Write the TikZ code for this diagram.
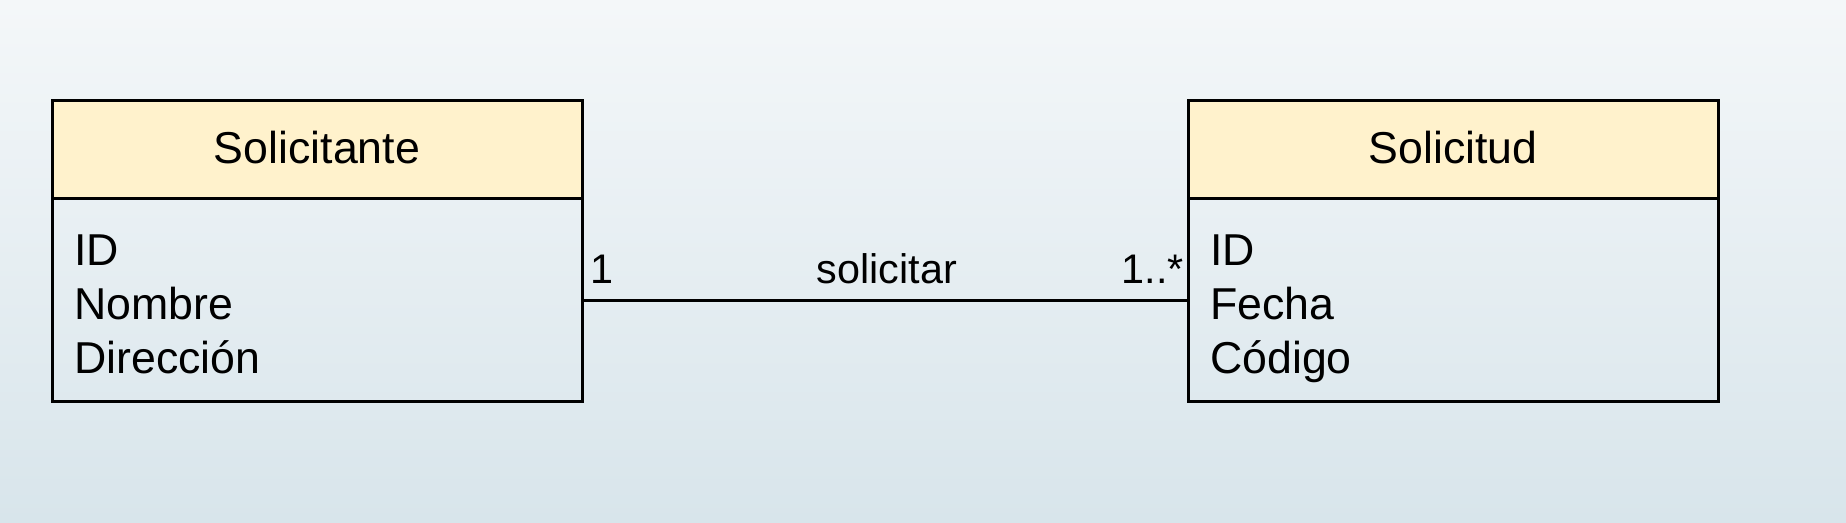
\documentclass[tikz,border=0pt]{standalone}
\usepackage{fontspec}
\setmainfont{Liberation Sans}
\definecolor{bgtop}{HTML}{F4F7F9}
\definecolor{bgbot}{HTML}{D8E5EB}
\definecolor{hdr}{HTML}{FFF2CC}
\tikzset{
  boxline/.style={draw=black, line width=2.25pt},
  hdrbox/.style={boxline, fill=hdr},
  attr/.style={anchor=base west, inner sep=0pt, font=\fontsize{33.5}{40}\selectfont},
  title/.style={anchor=base, inner sep=0pt, font=\fontsize{33.5}{40}\selectfont},
  lbl/.style={anchor=base, inner sep=0pt, font=\fontsize{31}{37}\selectfont},
  conn/.style={draw=black, line width=2.25pt}
}
\begin{document}
\begin{tikzpicture}[x=0.75pt, y=-0.75pt]
\useasboundingbox (0,0) rectangle (1846,522);
\shade[top color=bgtop, bottom color=bgbot] (0,0) rectangle (1846,522);
% Solicitante
\draw[hdrbox] (52,100) rectangle (582,198);
\draw[boxline] (52,198) rectangle (582,401);
\node[title] (t1) at (317,163) {Solicitante};
\node[attr] (a1) at (74,265) {ID};
\node[attr] (a2) at (74,319) {Nombre};
\node[attr] (a3) at (74,373) {Dirección};
\coordinate (L) at (582,300);
% Solicitud
\draw[hdrbox] (1188,100) rectangle (1718,198);
\draw[boxline] (1188,198) rectangle (1718,401);
\node[title] (t2) at (1453,163) {Solicitud};
\node[attr] (b1) at (1210,265) {ID};
\node[attr] (b2) at (1210,319) {Fecha};
\node[attr] (b3) at (1210,373) {Código};
\coordinate (R) at (1188,300);
% association
\draw[conn] (L) -- (R);
\node[lbl, anchor=base west] (m1) at (590,283) {1};
\node[lbl, anchor=base east] (m2) at (1184,283) {1..*};
\node[lbl] (an) at (887,283) {solicitar};
\end{tikzpicture}
\end{document}
